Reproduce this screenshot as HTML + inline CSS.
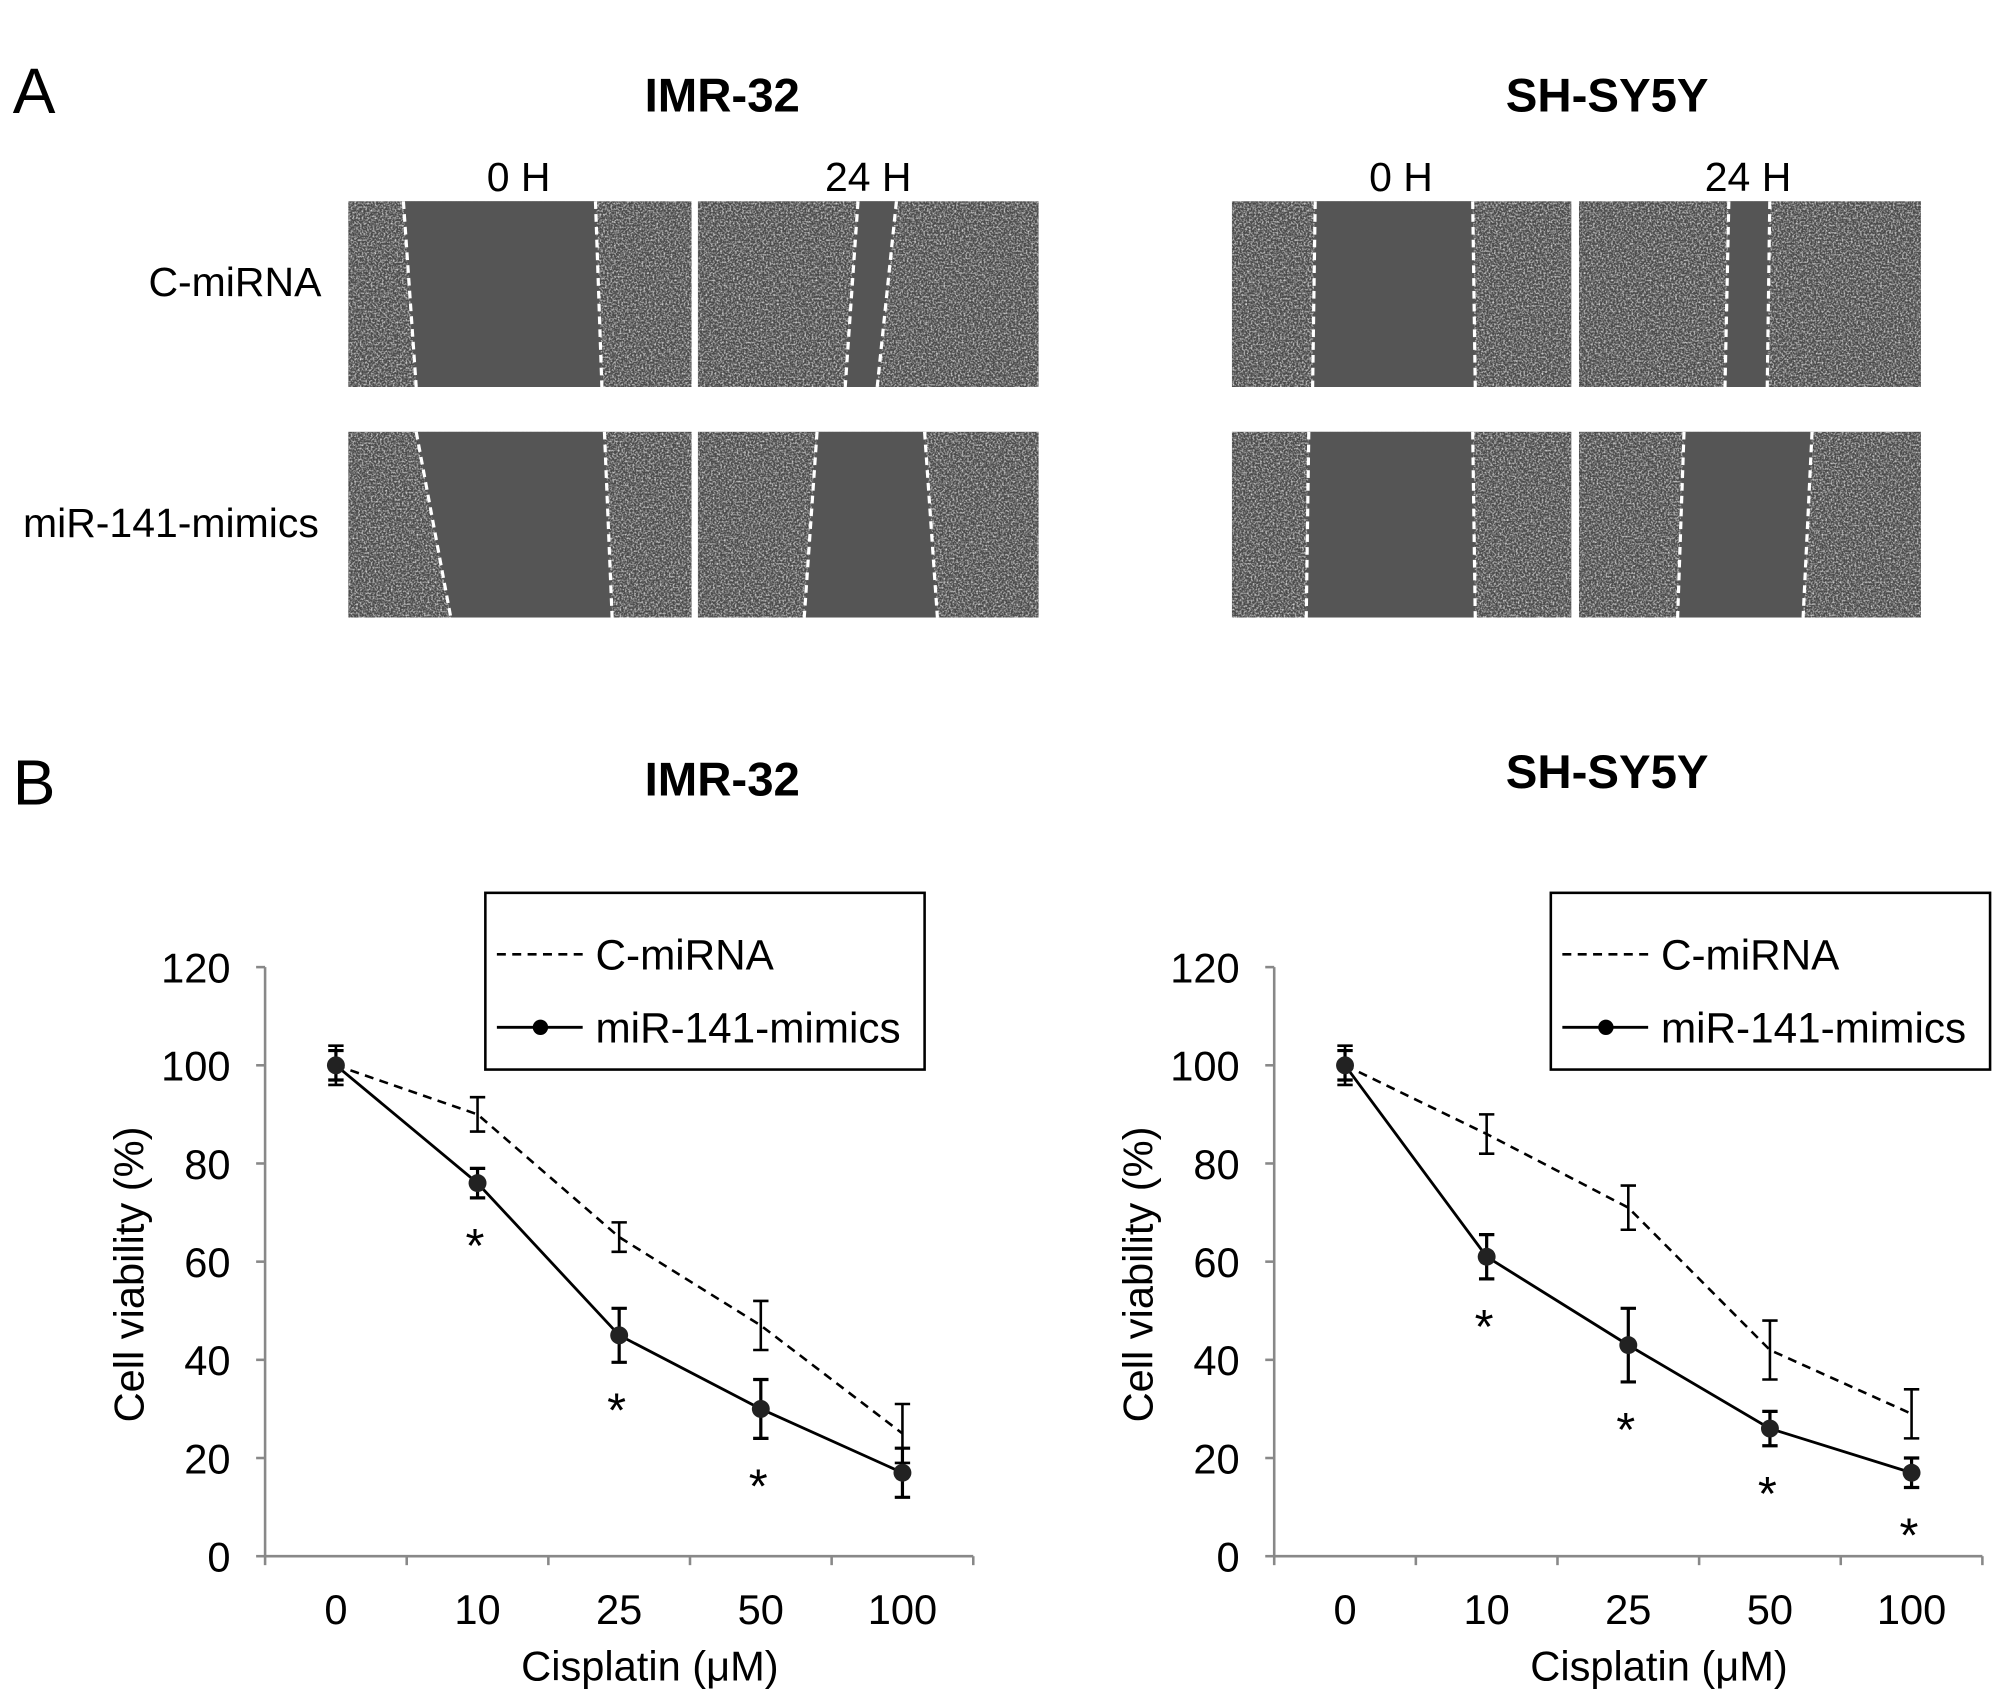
<!DOCTYPE html>
<html><head><meta charset="utf-8"><style>
html,body{margin:0;padding:0;background:#fff}
svg{display:block}
text{font-family:"Liberation Sans",Arial,sans-serif;fill:#000}
</style></head><body>
<svg width="2008" height="1705" viewBox="0 0 1568 1331" xmlns="http://www.w3.org/2000/svg">
<defs>
<filter id="noise" x="0" y="0" width="100%" height="100%">
<feTurbulence type="fractalNoise" baseFrequency="0.7" numOctaves="2" seed="3" result="t"/>
<feColorMatrix type="matrix" values="0 0 0 0 0.75  0 0 0 0 0.75  0 0 0 0 0.75  0 0 0 2.2 -0.9"/>
<feComposite in2="SourceGraphic" operator="in"/>
</filter>
</defs>
<text x="10" y="88" font-size="50">A</text>
<text x="564" y="87" font-size="37" font-weight="bold" text-anchor="middle">IMR-32</text>
<text x="1255" y="87" font-size="37" font-weight="bold" text-anchor="middle">SH-SY5Y</text>
<text x="405" y="149" font-size="32" text-anchor="middle">0 H</text>
<text x="678" y="149" font-size="32" text-anchor="middle">24 H</text>
<text x="1094" y="149" font-size="32" text-anchor="middle">0 H</text>
<text x="1365" y="149" font-size="32" text-anchor="middle">24 H</text>
<text x="251" y="231" font-size="32" text-anchor="end">C-miRNA</text>
<text x="249" y="419" font-size="32" text-anchor="end">miR-141-mimics</text>
<g id="panels"></g>
<text x="10" y="628" font-size="50">B</text>
<text x="564" y="621" font-size="37" font-weight="bold" text-anchor="middle">IMR-32</text>
<text x="1255" y="615" font-size="37" font-weight="bold" text-anchor="middle">SH-SY5Y</text>
<g id="charts"></g>
</svg>
<script>
const NS="http://www.w3.org/2000/svg";
function mk(tag,attrs,parent){const e=document.createElementNS(NS,tag);for(const k in attrs)e.setAttribute(k,attrs[k]);parent.appendChild(e);return e;}
const panelDefs=[
[272,157,268,145,315,325,465,470],[545,157,266,145,670,660,700,685],
[272,337,268,145,325,352,472,478],[545,337,266,145,638,628,722,732],
[962,157,265,145,1027,1025,1150,1152],[1233,157,267,145,1350,1347,1382,1380],
[962,337,265,145,1022,1020,1150,1152],[1233,337,267,145,1315,1310,1415,1408]];
const pg=document.getElementById('panels');
panelDefs.forEach((p,i)=>{
 const [x,y,w,h,a,b,c,d]=p;
 const g=mk('g',{},pg);
 
 
 mk('rect',{x:x,y:y,width:w,height:h,fill:'#4a4a4a'},g);
 mk('rect',{x:x,y:y,width:w,height:h,fill:'#999',filter:'url(#noise)'},g);
 mk('polygon',{points:`${a},${y} ${c},${y} ${d},${y+h} ${b},${y+h}`,fill:'#555'},g);
 mk('line',{x1:a,y1:y,x2:b,y2:y+h,stroke:'#fff','stroke-width':2.5,'stroke-dasharray':'6,4'},g);
 mk('line',{x1:c,y1:y,x2:d,y2:y+h,stroke:'#fff','stroke-width':2.5,'stroke-dasharray':'6,4'},g);
});

const categories=["0","10","25","50","100"];
const yTicks=[0,20,40,60,80,100,120];
const imrControl=[100,90,65,47,25];
const imrControlErr=[4,3.5,3,5,6];
const imrMimics=[100,76,45,30,17];
const imrMimicsErr=[3,3,5.5,6,5];
const imrStars=[false,true,true,true,false];
const shControl=[100,86,71,42,29];
const shControlErr=[4,4,4.5,6,5];
const shMimics=[100,61,43,26,17];
const shMimicsErr=[3,4.5,7.5,3.5,3];
const shStars=[false,true,true,true,true];

function chart(name,x0,ctrl,ctrlE,mim,mimE,stars,legX){
 const cg=document.getElementById('charts');
 const g=mk('g',{},cg);
 
 
 const x1=x0+553, yb=1215, yt=755, ymax=120;
 const ys=v=>yb-(v/ymax)*(yb-yt);
 const bw=(x1-x0)/categories.length;
 const xs=i=>x0+bw*(i+0.5);
 const ax=mk('g',{},g);
 
 
 mk('line',{x1:x0,y1:yt,x2:x0,y2:yb,stroke:'#888','stroke-width':2},ax);
 mk('line',{x1:x0,y1:yb,x2:x1,y2:yb,stroke:'#888','stroke-width':2},ax);
 yTicks.forEach(t=>{
  mk('line',{x1:x0-7,y1:ys(t),x2:x0,y2:ys(t),stroke:'#888','stroke-width':2},ax);
  const tx=mk('text',{x:x0-27,y:ys(t)+12,'font-size':32.5,'text-anchor':'end'},ax);
  tx.textContent=t;
  
  
 });
 for(let i=0;i<=categories.length;i++){
  mk('line',{x1:x0+bw*i,y1:yb,x2:x0+bw*i,y2:yb+7,stroke:'#888','stroke-width':2},ax);
 }
 categories.forEach((c,i)=>{
  const tx=mk('text',{x:xs(i),y:1268,'font-size':32.5,'text-anchor':'middle'},ax);
  tx.textContent=c;
  
  
 });
 const xt=mk('text',{x:(x0+x1)/2+24,y:1312,'font-size':32.5,'text-anchor':'middle'},g);
 xt.textContent='Cisplatin (μM)';
 
 
 const yt2=mk('text',{x:0,y:0,'font-size':32.5,'text-anchor':'middle',transform:`translate(${x0-95},995) rotate(-90)`},g);
 yt2.textContent='Cell viability (%)';
 
 
 const cs=mk('g',{},g);
 
 
 mk('polyline',{points:ctrl.map((v,i)=>xs(i)+','+ys(v)).join(' '),fill:'none',stroke:'#000','stroke-width':2,'stroke-dasharray':'7,5'},cs);
 ctrl.forEach((v,i)=>{
  const e=ctrlE[i];
  mk('path',{d:`M${xs(i)},${ys(v-e)}V${ys(v+e)}M${xs(i)-6},${ys(v-e)}h12M${xs(i)-6},${ys(v+e)}h12`,stroke:'#000','stroke-width':2,fill:'none'},cs);
 });
 const ms=mk('g',{},g);
 
 
 mk('polyline',{points:mim.map((v,i)=>xs(i)+','+ys(v)).join(' '),fill:'none',stroke:'#000','stroke-width':2.2},ms);
 mim.forEach((v,i)=>{
  const e=mimE[i];
  mk('path',{d:`M${xs(i)},${ys(v-e)}V${ys(v+e)}M${xs(i)-6},${ys(v-e)}h12M${xs(i)-6},${ys(v+e)}h12`,stroke:'#000','stroke-width':2.5,fill:'none'},ms);
  const p=mk('circle',{cx:xs(i),cy:ys(v),r:7,fill:'#222'},ms);
  
  
  if(stars[i]){
   const s=mk('text',{x:xs(i)-2,y:ys(v-mimE[i])+50,'font-size':38,'text-anchor':'middle'},ms);
   s.textContent='*';
   
   
  }
 });
 const lg=mk('g',{},g);
 
 
 mk('rect',{x:legX,y:697,width:343,height:138,fill:'#fff',stroke:'#000','stroke-width':2},lg);
 mk('line',{x1:legX+9,y1:745,x2:legX+76,y2:745,stroke:'#000','stroke-width':2,'stroke-dasharray':'7,5'},lg);
 const l1=mk('text',{x:legX+86,y:757,'font-size':33},lg);
 l1.textContent='C-miRNA';
 
 
 mk('line',{x1:legX+9,y1:802,x2:legX+76,y2:802,stroke:'#000','stroke-width':2.2},lg);
 mk('circle',{cx:legX+43,cy:802,r:6,fill:'#000'},lg);
 const l2=mk('text',{x:legX+86,y:814,'font-size':33},lg);
 l2.textContent='miR-141-mimics';
 
 
}
chart('imr32-viability-chart',207,imrControl,imrControlErr,imrMimics,imrMimicsErr,imrStars,379);
chart('shsy5y-viability-chart',995,shControl,shControlErr,shMimics,shMimicsErr,shStars,1211);
</script>
</body></html>
